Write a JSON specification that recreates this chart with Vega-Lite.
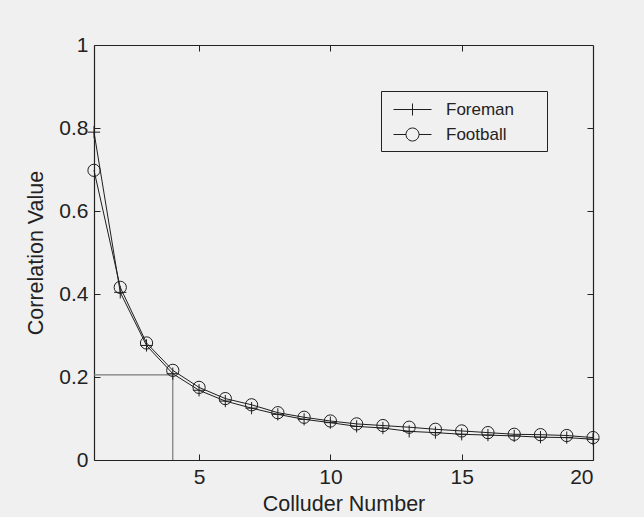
{
  "$schema": "https://vega.github.io/schema/vega-lite/v6.json",
  "autosize": {"type": "none"},
  "padding": {"left": 94, "top": 45, "right": 51, "bottom": 57},
  "width": 499,
  "height": 415,
  "background": "#f0f0f0",
  "config": {
    "view": {"stroke": null},
    "font": "Liberation Sans",
    "axis": {
      "grid": false,
      "domainColor": "#222222",
      "domainWidth": 1.2,
      "tickColor": "#222222",
      "tickWidth": 1,
      "tickSize": -6,
      "labelColor": "#222222",
      "labelFontSize": 21,
      "titleColor": "#222222",
      "titleFontSize": 21.5,
      "titleFontWeight": "normal"
    }
  },
  "datasets": {
    "curves": [
      {"series": "Foreman", "n": 1, "v": 0.79},
      {"series": "Foreman", "n": 2, "v": 0.404},
      {"series": "Foreman", "n": 3, "v": 0.276},
      {"series": "Foreman", "n": 4, "v": 0.208},
      {"series": "Foreman", "n": 5, "v": 0.168},
      {"series": "Foreman", "n": 6, "v": 0.142},
      {"series": "Foreman", "n": 7, "v": 0.125},
      {"series": "Foreman", "n": 8, "v": 0.110},
      {"series": "Foreman", "n": 9, "v": 0.098},
      {"series": "Foreman", "n": 10, "v": 0.090},
      {"series": "Foreman", "n": 11, "v": 0.081},
      {"series": "Foreman", "n": 12, "v": 0.077},
      {"series": "Foreman", "n": 13, "v": 0.069},
      {"series": "Foreman", "n": 14, "v": 0.066},
      {"series": "Foreman", "n": 15, "v": 0.062},
      {"series": "Foreman", "n": 16, "v": 0.060},
      {"series": "Foreman", "n": 17, "v": 0.058},
      {"series": "Foreman", "n": 18, "v": 0.055},
      {"series": "Foreman", "n": 19, "v": 0.054},
      {"series": "Foreman", "n": 20, "v": 0.050},
      {"series": "Football", "n": 1, "v": 0.698},
      {"series": "Football", "n": 2, "v": 0.416},
      {"series": "Football", "n": 3, "v": 0.282},
      {"series": "Football", "n": 4, "v": 0.216},
      {"series": "Football", "n": 5, "v": 0.175},
      {"series": "Football", "n": 6, "v": 0.148},
      {"series": "Football", "n": 7, "v": 0.133},
      {"series": "Football", "n": 8, "v": 0.114},
      {"series": "Football", "n": 9, "v": 0.103},
      {"series": "Football", "n": 10, "v": 0.094},
      {"series": "Football", "n": 11, "v": 0.087},
      {"series": "Football", "n": 12, "v": 0.083},
      {"series": "Football", "n": 13, "v": 0.079},
      {"series": "Football", "n": 14, "v": 0.074},
      {"series": "Football", "n": 15, "v": 0.070},
      {"series": "Football", "n": 16, "v": 0.066},
      {"series": "Football", "n": 17, "v": 0.062},
      {"series": "Football", "n": 18, "v": 0.061},
      {"series": "Football", "n": 19, "v": 0.059},
      {"series": "Football", "n": 20, "v": 0.054}
    ],
    "guide": [
      {"i": 0, "n": 1, "v": 0.205},
      {"i": 1, "n": 4, "v": 0.205},
      {"i": 2, "n": 4, "v": 0}
    ]
  },
  "layer": [
    {
      "data": {"name": "guide"},
      "mark": {"type": "line", "color": "#7a7a7a", "strokeWidth": 1.2},
      "encoding": {
        "x": {
          "field": "n", "type": "quantitative",
          "scale": {"domain": [1, 20], "nice": false, "zero": false},
          "axis": {"orient": "bottom", "values": [5, 10, 15, 20], "format": "~g", "labelPadding": 12, "title": "Colluder Number", "titlePadding": 6}
        },
        "y": {
          "field": "v", "type": "quantitative",
          "scale": {"domain": [0, 1], "nice": false},
          "axis": {"orient": "left", "values": [0, 0.2, 0.4, 0.6, 0.8, 1], "format": "~g", "labelPadding": 12, "title": "Correlation Value", "titlePadding": 11}
        },
        "order": {"field": "i", "type": "quantitative"}
      }
    },
    {
      "data": {"name": "curves"},
      "mark": {"type": "line", "color": "#1e1e1e", "strokeWidth": 1},
      "encoding": {
        "x": {"field": "n", "type": "quantitative", "axis": null},
        "y": {"field": "v", "type": "quantitative", "axis": null},
        "detail": {"field": "series", "type": "nominal"}
      }
    },
    {
      "data": {"name": "curves"},
      "mark": {"type": "point", "filled": false, "stroke": "#1e1e1e", "strokeWidth": 1, "opacity": 1, "size": 150},
      "encoding": {
        "x": {
          "field": "n", "type": "quantitative",
          "axis": {"orient": "top", "values": [5, 10, 15], "labels": false, "title": null}
        },
        "y": {
          "field": "v", "type": "quantitative",
          "axis": {"orient": "right", "values": [0.2, 0.4, 0.6, 0.8], "labels": false, "title": null}
        },
        "shape": {
          "field": "series", "type": "nominal",
          "scale": {"domain": ["Foreman", "Football"], "range": ["M-1,0H1M0,-1V1", "circle"]},
          "legend": null
        }
      }
    },
    {
      "data": {"name": "curves"},
      "mark": {"type": "point", "filled": false, "stroke": "#1e1e1e", "strokeWidth": 1, "opacity": 0, "size": 400},
      "encoding": {
        "x": {"field": "n", "type": "quantitative", "axis": null},
        "y": {"field": "v", "type": "quantitative", "axis": null},
        "shape": {
          "field": "series", "type": "nominal",
          "scale": {"domain": ["Foreman", "Football"], "range": ["M-0.6,0H3.2M1.3,-0.6V0.6", "M-0.6,0H0.65M1.95,0H3.2M0.65,0A0.65,0.65,0,1,1,1.95,0A0.65,0.65,0,1,1,0.65,0"]},
          "legend": {
            "title": "\u00a0",
            "titleOrient": "right",
            "titlePadding": 25,
            "titleFontSize": 4,
            "orient": "none",
            "legendX": 287,
            "legendY": 46,
            "padding": 8,
            "strokeColor": "#222222",
            "fillColor": "#f0f0f0",
            "symbolSize": 400,
            "symbolStrokeColor": "#1e1e1e",
            "symbolStrokeWidth": 1,
            "symbolFillColor": "transparent",
            "symbolOpacity": 1,
            "rowPadding": 6,
            "labelFontSize": 17,
            "labelColor": "#222222",
            "labelOffset": 36,
            "encode": {
              "symbols": {
                "update": {
                  "opacity": {"value": 1},
                  "fill": {"value": "transparent"},
                  "stroke": {"value": "#1e1e1e"}
                }
              }
            }
          }
        }
      }
    }
  ],
  "resolve": {"axis": {"x": "independent", "y": "independent"}, "scale": {"shape": "independent"}}
}
